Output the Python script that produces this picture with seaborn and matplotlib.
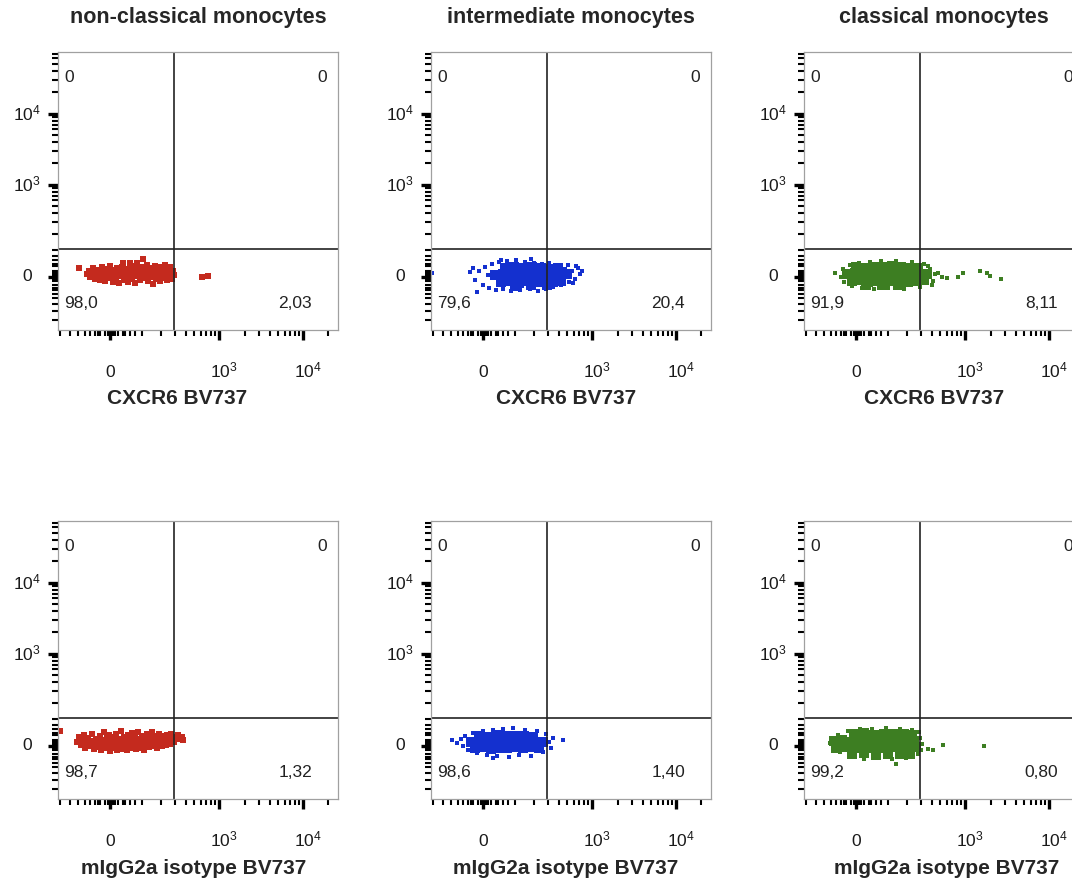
import matplotlib.pyplot as plt
import matplotlib.transforms as mtransforms
from matplotlib.ticker import FixedLocator, NullFormatter
import seaborn as sns

# ---- data: events (fluorescence units) ----
titles = ['non-classical monocytes', 'intermediate monocytes', 'classical monocytes']
xlabels = ['CXCR6 BV737', 'mIgG2a isotype BV737']
gate_x, gate_y = 285, 124

# quadrant percentages (lower-left, lower-right); upper ones are all 0
ll_pct = [['98,0', '79,6', '91,9'], ['98,7', '98,6', '99,2']]
lr_pct = [['2,03', '20,4', '8,11'], ['1,32', '1,40', '0,80']]
ul_pct = '0'
ur_pct = '0'

# non-classical, CXCR6
nc_cxcr6_x = [-117, -91, -83, -79, -71, -67, -60, -56, -48, -44,
              -40, -36, -32, -28, -24, -20, -16, -12, -8, -4,
              0, 4, 8, 12, 16, 20, 24, 28, 32, 36,
              40, 44, 48, 52, 56, 60, 64, 67, 71, 75,
              79, 83, 87, 91, 95, 99, 102, 105, 108, 111,
              114, 117, 120, 124, 127, 131, 135, 138, 142, 146,
              150, 154, 158, 163, 167, 172, 177, 182, 187, 192,
              197, 203, 208, 214, 220, 226, 232, 239, 246, 252,
              259, 266, 274, 282, 289, 623, 736]
nc_cxcr6_y = [42, 14, 28, 0, 19, 42, -9, 23, 5, 33,
              -14, 14, 47, 0, 23, -19, 38, 9, -5, 28,
              52, 0, 19, -23, 33, 9, -9, 42, 19, -28,
              28, 5, 47, 66, -14, 23, 0, 38, -23, 14,
              66, 33, -9, 52, 19, -28, 38, 66, 5, 23,
              -14, 47, 14, 85, -5, 33, 9, 56, -19, 23,
              42, 0, 28, -33, 14, 52, -9, 33, 5, 47,
              -19, 19, 38, -5, 23, 56, 9, -14, 33, 0,
              47, 19, -9, 28, 9, 0, 5]

# intermediate, CXCR6 (dense core + sparse edge events)
int_cxcr6_core_x = [87, 117, 150, 192, 246, 315, 391,
                    48, 79, 108, 135, 167, 208, 259, 324, 403, 503,
                    71, 105, 135, 172, 220, 274, 341, 428,
                    120, 187, 289]
int_cxcr6_core_y = [42, 45, 40, 47, 42, 38, 44,
                    9, 12, 6, 10, 14, 8, 11, 5, 9, 12,
                    -23, -19, -26, -21, -24, -18, -22, -19,
                    -42, -38, -40]
int_cxcr6_x = [-206, -52, -24, -32, -16, 0, 8, 20, 24, 36,
               52, 63, 79, 95, 108, 124, 139, 158, 180, 203,
               226, 252, 281, 306, 341, 380, 428, 478, 530, 575,
               623, 678, 720, 757, 640, 590, 515, -40, 71, 187]
int_cxcr6_y = [19, 23, -70, -14, 28, -38, 47, 9, -52, 61,
               -61, 70, -56, 75, -66, 80, -61, 70, -56, 66,
               -66, 61, -56, 66, -47, 52, -38, 38, -23, 28,
               -9, 42, 14, 28, 52, -28, 56, 42, 80, 85]

# classical, CXCR6
cl_cxcr6_core_x = [0, 36, 71, 105, 135, 172, 220, 274,
                   -36, -4, 28, 60, 91, 117, 146, 182, 226, 281, 351,
                   -16, 16, 48, 79, 108, 135, 167, 208, 259, 324,
                   40, 103, 158]
cl_cxcr6_core_y = [47, 44, 49, 45, 50, 46, 43, 40,
                   14, 17, 11, 15, 12, 16, 10, 14, 12, 9, 13,
                   -19, -16, -22, -18, -21, -17, -20, -23, -18, -15,
                   -38, -40, -36]
cl_cxcr6_x = [-83, -60, -52, -48, -24, -16, 12, 24, 56, 71,
              99, 120, 150, 187, 232, 289, 324, 380, 415, 440,
              403, 362, 475, 530, 605, 820, 940, 1500, 1800, 1960,
              2700]
cl_cxcr6_y = [19, 0, 38, -23, 56, -42, 66, -52, 70, -56,
              75, -52, 75, -56, 70, -47, 61, 38, -19, 14,
              -38, 52, 19, 0, -5, 0, 19, 28, 19, 5,
              -9]

# non-classical, isotype
nc_iso_x = [-200, -124, -117, -111, -108, -102, -99, -91, -87, -79,
            -75, -71, -63, -60, -56, -48, -44, -40, -36, -32,
            -28, -24, -20, -16, -12, -8, -4, 0, 4, 8,
            12, 16, 20, 24, 28, 32, 36, 40, 44, 48,
            52, 56, 60, 64, 67, 71, 75, 79, 83, 87,
            91, 95, 99, 102, 105, 108, 111, 114, 117, 120,
            124, 127, 131, 135, 138, 142, 146, 150, 154, 158,
            163, 167, 172, 177, 182, 187, 192, 197, 203, 208,
            214, 220, 226, 232, 239, 246, 252, 259, 266, 274,
            282, 289, 306, 323, 341, 361, 371]
nc_iso_y = [70, 19, 42, 5, 28, 52, -9, 14, 38, 0,
            23, 56, -14, 9, 33, -5, 19, 47, -19, 5,
            28, 66, -9, 14, 38, 0, 52, -23, 23, 5,
            42, -9, 19, 56, -19, 9, 33, -5, 70, 19,
            -14, 42, 5, 28, -19, 52, 9, 33, -9, 61,
            19, 0, 42, -14, 23, 66, 5, 33, -9, 47,
            14, -19, 38, 5, 56, 23, -5, 42, 14, 66,
            28, 0, 47, 19, -9, 38, 56, 14, 28, 0,
            47, 19, 33, 5, 52, 23, 38, 9, 56, 28,
            42, 19, 38, 52, 33, 42, 28]

# intermediate, isotype
int_iso_core_x = [-16, 20, 56, 91, 120, 154, 197,
                  -48, -16, 16, 48, 79, 108, 135, 167, 208, 259,
                  -32, 0, 32, 63, 95, 120, 150, 187, 234]
int_iso_core_y = [47, 44, 50, 46, 49, 45, 42,
                  19, 22, 16, 20, 17, 21, 18, 23, 16, 19,
                  -9, -6, -12, -8, -11, -7, -10, -5, -9]
int_iso_x = [-117, -103, -87, -79, -71, -60, -40, -24, 0, 16,
             40, 56, 79, 103, 114, 135, 158, 187, 220, 259,
             281, 306, 324, 341, 449, 40]
int_iso_y = [28, 14, 33, 0, 47, -19, 61, -33, 70, -42,
             75, -47, 80, -52, 85, -42, 75, -47, 70, -28,
             56, 19, -9, 38, 28, -56]

# classical, isotype
cl_iso_core_x = [-8, 32, 71, 108, 142, 187, 234,
                 -87, -56, -24, 8, 40, 71, 103, 127, 158, 197, 246,
                 -79, -48, -16, 16, 48, 79, 108, 135, 167, 208, 259,
                 -16, 32, 79, 120, 167, 220]
cl_iso_core_y = [56, 59, 53, 57, 54, 58, 52,
                 23, 26, 20, 24, 21, 25, 22, 27, 20, 24, 21,
                 -9, -6, -12, -8, -11, -7, -10, -5, -9, -12, -7,
                 -38, -35, -41, -37, -40, -36]
cl_iso_x = [-103, -99, -71, -63, -32, -24, 16, 32, 63, 87,
            114, 150, 135, 167, 197, 232, 274, 281, 289, 306,
            297, 362, 415, 545, 1690]
cl_iso_y = [14, 33, 52, -28, 70, -52, 80, -61, 80, -56,
            85, -85, -61, 80, -56, 75, -38, 66, 38, 9,
            -19, -14, -19, 5, 0]

# axis ticks (biexponential-like display)
major_ticks = [0, 1e3, 1e4]
major_labels = ['0', r'$\mathregular{10^3}$', r'$\mathregular{10^4}$']
minor_ticks = [-200, -150, -120, -100, -80, -60, -50, -40, -20, -10,
               10, 20, 30, 50, 60, 80, 100, 120,
               200, 300, 400, 500, 600, 700, 800, 900,
               2000, 3000, 4000, 5000, 6000, 7000, 8000, 9000,
               20000, 30000, 40000, 50000, 60000, 70000]

colors = ['#c42a1e', '#1430cf', '#3d7e22']

# ---- style ----
sns.set_style("white")
plt.rcParams['font.family'] = ['Liberation Sans', 'DejaVu Sans']
plt.rcParams['mathtext.fontset'] = 'custom'
plt.rcParams['mathtext.rm'] = 'Liberation Sans'

W, H = 1072, 882
fig = plt.figure(figsize=(W / 100, H / 100), dpi=100)

col_left = [58, 431, 804]
row_top = [52, 521]
box_w, box_h = 280, 278
xlabel_cx = [[177, 566, 934], [194, 566, 947]]
xlabel_y = [399, 869]

panels = [
    (0, 0, nc_cxcr6_x, nc_cxcr6_y, None, None),
    (0, 1, int_cxcr6_x, int_cxcr6_y, int_cxcr6_core_x, int_cxcr6_core_y),
    (0, 2, cl_cxcr6_x, cl_cxcr6_y, cl_cxcr6_core_x, cl_cxcr6_core_y),
    (1, 0, nc_iso_x, nc_iso_y, None, None),
    (1, 1, int_iso_x, int_iso_y, int_iso_core_x, int_iso_core_y),
    (1, 2, cl_iso_x, cl_iso_y, cl_iso_core_x, cl_iso_core_y),
]

for row, col, ex, ey, cx, cy in panels:
    left, top = col_left[col], row_top[row]
    ax = fig.add_axes([left / W, 1 - (top + box_h) / H, box_w / W, box_h / H])
    c = colors[col]

    if cx is not None:
        sns.scatterplot(x=cx, y=cy, color=c, marker='s', s=48, linewidth=0,
                        ax=ax, legend=False)
    sns.scatterplot(x=ex, y=ey, color=c, marker='s', s=15 if cx is None else 11,
                    linewidth=0, ax=ax, legend=False)

    ax.set_xscale('symlog', linthresh=100, linscale=0.27)
    ax.set_yscale('symlog', linthresh=100, linscale=0.27)
    ax.set_xlim(-210, 26000)
    ax.set_ylim(-280, 74000)
    ax.set_xlabel('')
    ax.set_ylabel('')

    # quadrant gates
    ax.axvline(gate_x, color='#222222', lw=1.2)
    ax.axhline(gate_y, color='#222222', lw=1.2)

    for axis in (ax.xaxis, ax.yaxis):
        axis.set_major_locator(FixedLocator(major_ticks))
        axis.set_minor_locator(FixedLocator(minor_ticks))
        axis.set_major_formatter(NullFormatter())
        axis.set_minor_formatter(NullFormatter())
    ax.tick_params(which='major', direction='out', length=7.5, width=2.4,
                   color='black', bottom=True, left=True)
    ax.tick_params(which='minor', direction='out', length=4.5, width=1.5,
                   color='black', bottom=True, left=True)
    for sp in ax.spines.values():
        sp.set_color('#a0a0a0')
        sp.set_linewidth(0.9)

    # tick labels drawn as text so baselines line up
    tx = mtransforms.blended_transform_factory(ax.transData, ax.transAxes)
    ty = mtransforms.blended_transform_factory(ax.transAxes, ax.transData)
    for v, lab in zip(major_ticks, major_labels):
        shift = 0 if v == 0 else 5
        ax.text(v, -47 / box_h, lab,
                transform=mtransforms.offset_copy(tx, fig=fig, x=shift, units='dots'),
                ha='center', va='baseline', fontsize=12.5, color='#1a1a1a')
        ax.text(-31 / box_w, v, lab, transform=ty, ha='center', va='center',
                fontsize=12.5, color='#1a1a1a')

    # quadrant percentages
    qk = dict(transform=ax.transAxes, fontsize=12.5, color='#222222', va='center')
    ax.text(0.022, 0.91, ul_pct, ha='left', **qk)
    ax.text(0.96, 0.91, ur_pct, ha='right', **qk)
    ax.text(0.022, 0.097, ll_pct[row][col], ha='left', **qk)
    ax.text(0.907, 0.097, lr_pct[row][col], ha='right', **qk)

    fig.text(xlabel_cx[row][col] / W, 1 - xlabel_y[row] / H, xlabels[row],
             ha='center', va='center', fontsize=15, fontweight='bold')

for col in range(3):
    fig.text((col_left[col] + box_w / 2) / W, 1 - 18 / H, titles[col],
             ha='center', va='center', fontsize=15.5, fontweight='bold')

fig.savefig('out.png', dpi=100)
